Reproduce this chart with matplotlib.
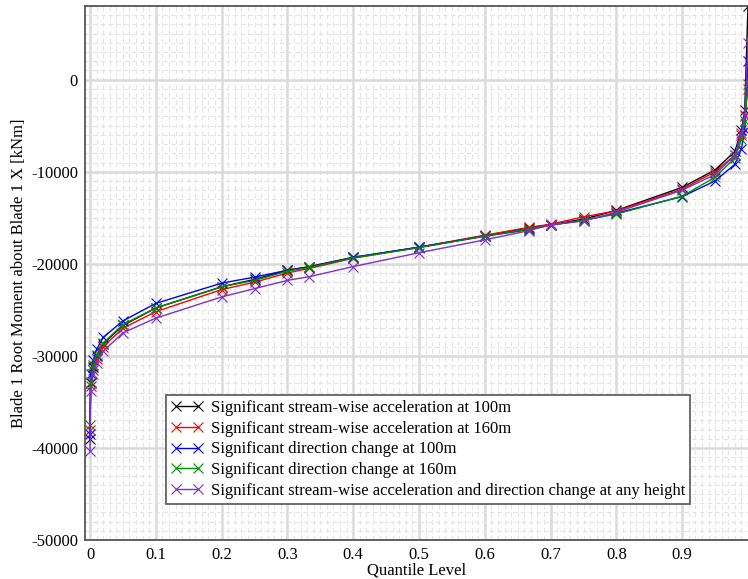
import matplotlib
matplotlib.use("Agg")
import matplotlib.pyplot as plt
from matplotlib.ticker import MultipleLocator

# quantile levels and Blade 1 root moment values [kNm]
quantiles = [0, 0.001, 0.005, 0.01, 0.02, 0.05, 0.1, 0.2, 0.25, 0.3, 1/3, 0.4,
             0.5, 0.6, 2/3, 0.7, 0.75, 0.8, 0.9, 0.95, 0.98, 0.99, 0.995, 1.0]

accel_100 = [-39000, -33000, -31200, -30000, -28700, -26700, -24800, -22500,
             -21700, -20700, -20300, -19300, -18200, -16950, -16100, -15750,
             -15150, -14200, -11700, -9800, -7800, -5500, -3300, 8000]
accel_160 = [-38000, -33300, -31500, -30300, -29000, -27000, -25200, -22800,
             -22000, -21000, -20500, -19400, -18200, -16900, -16050, -15700,
             -14900, -14250, -11900, -10000, -8200, -6000, -3800, -1000]
dir_100 = [-38500, -32000, -30500, -29300, -28000, -26200, -24300, -22100,
           -21450, -20700, -20350, -19300, -18200, -17000, -16300, -15800,
           -15300, -14500, -12700, -11000, -9200, -7500, -5500, 2000]
dir_160 = [-37500, -32800, -31000, -29900, -28600, -26600, -24800, -22500,
           -21800, -20800, -20400, -19350, -18250, -17000, -16250, -15800,
           -15250, -14600, -12650, -10600, -8500, -6500, -4500, -500]
both_any = [-40300, -33800, -32000, -30800, -29500, -27500, -25900, -23600,
            -22700, -21800, -21400, -20300, -18800, -17400, -16400, -15750,
            -15350, -14400, -12000, -10300, -8200, -5800, -4000, 4000]

labels = ["Significant stream-wise acceleration at 100m",
          "Significant stream-wise acceleration at 160m",
          "Significant direction change at 100m",
          "Significant direction change at 160m",
          "Significant stream-wise acceleration and direction change at any height"]
colors = ["black", "#ff0000", "#0000ff", "#008c00", "#7a30c8"]

plt.rcParams['font.family'] = ['Liberation Serif', 'DejaVu Serif']
plt.rcParams['axes.unicode_minus'] = False

fig = plt.figure(figsize=(7.48, 5.79), dpi=100)
ax = fig.add_axes([85/748, 1 - 540/579, 1 - 85/748, (540 - 6)/579])

series = [accel_100, accel_160, dir_100, dir_160, both_any]
for ys, lab, c in zip(series, labels, colors):
    ax.plot(quantiles, ys, color=c, lw=1.0, marker='x', markersize=7,
            markeredgewidth=0.8, label=lab)

ax.set_xlim(-0.0076, 1.0)
ax.set_ylim(-50000, 8000)
ax.xaxis.set_minor_locator(MultipleLocator(0.01))
ax.yaxis.set_major_locator(MultipleLocator(10000))
ax.yaxis.set_minor_locator(MultipleLocator(1000))
ax.set_xticks([0, 0.1, 0.2, 0.3, 0.4, 0.5, 0.6, 0.7, 0.8, 0.9])
ax.set_xticklabels(["0", "0.1", "0.2", "0.3", "0.4", "0.5", "0.6", "0.7", "0.8", "0.9"])

ax.grid(which='major', color='#dadada', lw=1.8)
ax.grid(which='minor', color='#e4e4e4', lw=0.8, linestyle=(0, (4, 3)))
ax.set_axisbelow(True)
ax.tick_params(which='both', length=0, labelsize=12)
ax.tick_params(axis='y', pad=5)
ax.tick_params(axis='x', pad=5)

for s in ['left', 'bottom', 'top']:
    ax.spines[s].set_color('#555555')
    ax.spines[s].set_linewidth(1.3)
ax.spines['right'].set_visible(False)

ax.set_xlabel("Quantile Level", fontsize=12, labelpad=0)
ax.set_ylabel("Blade 1 Root Moment about Blade 1 X [kNm]", fontsize=12, labelpad=3)

leg = ax.legend(loc='upper left', bbox_to_anchor=(0.122, 0.2715), borderaxespad=0,
                numpoints=2, fancybox=False, framealpha=1, edgecolor='#555555',
                fontsize=12, handlelength=1.9, labelspacing=0.28, borderpad=0.3,
                handletextpad=0.5)
leg.get_frame().set_linewidth(1.2)

fig.savefig("out.png", dpi=100)
